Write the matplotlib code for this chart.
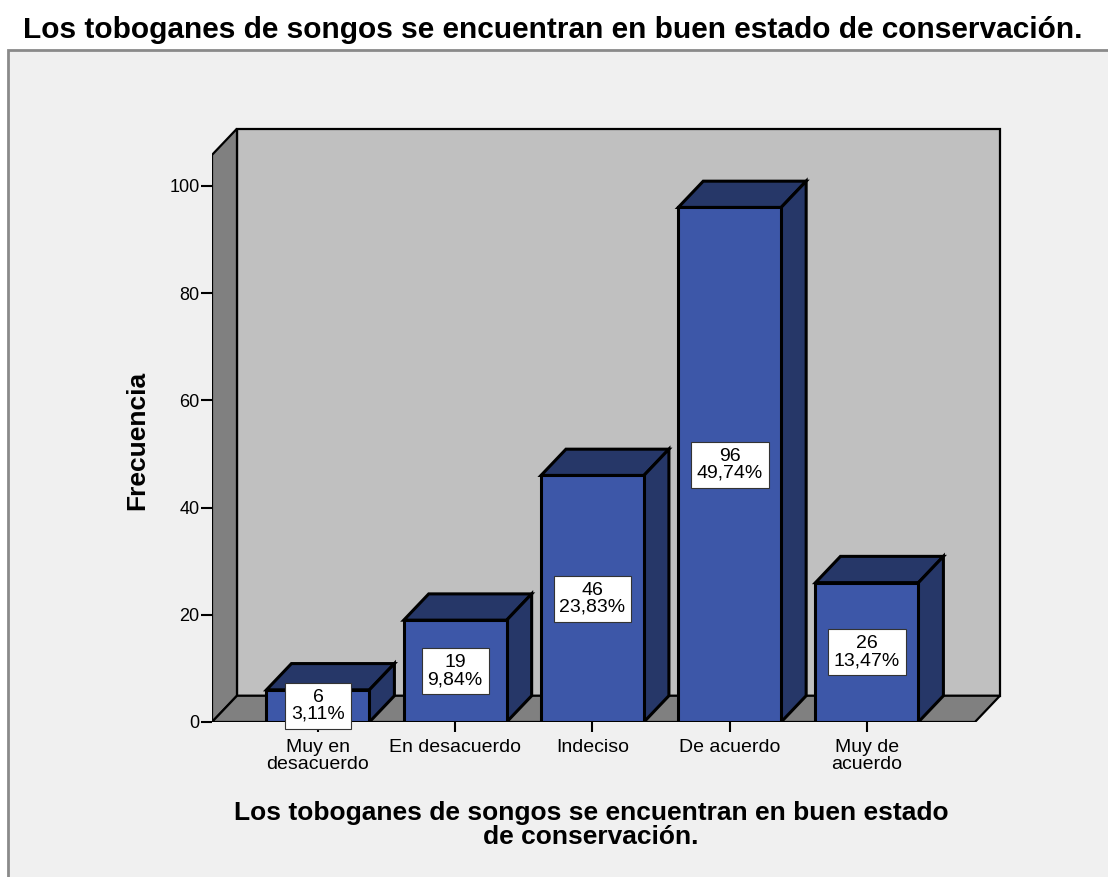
import matplotlib as mpl
import matplotlib.pyplot as plt
from matplotlib.patches import Polygon, Rectangle

mpl.rcParams.update({
    "font.family": ["Liberation Sans", "DejaVu Sans"],
})

# ===== DATA =====
categorias = ["Muy en\ndesacuerdo", "En desacuerdo", "Indeciso", "De acuerdo", "Muy de\nacuerdo"]
frecuencias = [6, 19, 46, 96, 26]
porcentajes = ["3,11%", "9,84%", "23,83%", "49,74%", "13,47%"]
y_ticks = [0, 20, 40, 60, 80, 100]
titulo = "Los toboganes de songos se encuentran en buen estado de conservación."
x_titulo = "Los toboganes de songos se encuentran en buen estado\nde conservación."

# ===== STYLE / GEOMETRY =====
W, H = 1108, 877
FRONT = "#3d57a8"
DARK = "#263768"
WALL = "#c0c0c0"
SIDE = "#808080"
XMIN, XMAX = -0.772, 5.04
YMIN, YMAX = 0, 112
WALL_TOP = 105.8
FLOOR_END = 4.787
DX, DY = 0.182, 4.9      # depth offset in data units
BW = 0.375               # half bar width

fig = plt.figure(figsize=(W / 100, H / 100), dpi=100, facecolor="white")

# outer frame
fig.patches.append(Rectangle((8 / W, -0.01), 1.02, (H - 50) / H + 0.01,
                             transform=fig.transFigure, fc="#f0f0f0",
                             ec="#8a8a8a", lw=2, zorder=-5))

px_per_x = 137.25
left_px = 212
right_px = left_px + (XMAX - XMIN) * px_per_x
top_px = 722 - YMAX * 5.36
ax = fig.add_axes([left_px / W, (H - 722) / H,
                   (right_px - left_px) / W, (722 - top_px) / H])
ax.set_zorder(2)
ax.set_xlim(XMIN, XMAX)
ax.set_ylim(YMIN, YMAX)
ax.patch.set_alpha(0)
for s in ax.spines.values():
    s.set_visible(False)

edge = dict(ec="black", lw=1.6, joinstyle="miter")

# back wall, side wall, floor
ax.add_patch(Polygon([(XMIN + DX, DY), (FLOOR_END + DX, DY),
                      (FLOOR_END + DX, WALL_TOP + DY), (XMIN + DX, WALL_TOP + DY)],
                     fc=WALL, **edge))
ax.add_patch(Polygon([(XMIN, 0), (XMIN, WALL_TOP), (XMIN + DX, WALL_TOP + DY),
                      (XMIN + DX, DY)], fc=SIDE, **edge))
ax.add_patch(Polygon([(XMIN, 0), (FLOOR_END, 0), (FLOOR_END + DX, DY),
                      (XMIN + DX, DY)], fc=SIDE, **edge))

# bars
ebar = dict(ec="black", lw=2.2, joinstyle="miter")
for i, v in enumerate(frecuencias):
    x0, x1 = i - BW, i + BW
    ax.add_patch(Polygon([(x0, v), (x1, v), (x1 + DX, v + DY), (x0 + DX, v + DY)],
                         fc=DARK, zorder=3, **ebar))
    ax.add_patch(Polygon([(x1, 0), (x1 + DX, DY), (x1 + DX, v + DY), (x1, v)],
                         fc=DARK, zorder=3, **ebar))
    ax.add_patch(Polygon([(x0, 0), (x1, 0), (x1, v), (x0, v)],
                         fc=FRONT, zorder=4, **ebar))
    ax.text(i, v / 2, f"{v}\n{porcentajes[i]}", ha="center", va="center",
            fontsize=14, linespacing=1.0, zorder=5,
            bbox=dict(boxstyle="square,pad=0.3", fc="white", ec="#333333", lw=0.8))

ax.set_yticks(y_ticks)
ax.set_xticks(range(len(categorias)))
ax.set_xticklabels(categorias, fontsize=14, linespacing=1.05)
ax.tick_params(axis="y", length=8, width=1.5, labelsize=13, pad=1)
ax.tick_params(axis="x", length=7, width=1.5, pad=5)

fig.text(137 / W, 1 - 440 / H, "Frecuencia", rotation=90, ha="center", va="center",
         fontsize=19, fontweight="bold")
fig.text(591 / W, 1 - 825 / H, x_titulo, ha="center", va="center",
         fontsize=19, fontweight="bold", linespacing=1.0)
fig.text(553 / W, 1 - 30 / H, titulo, ha="center", va="center",
         fontsize=21.5, fontweight="bold")

fig.savefig("out.png", dpi=100, facecolor="white")
